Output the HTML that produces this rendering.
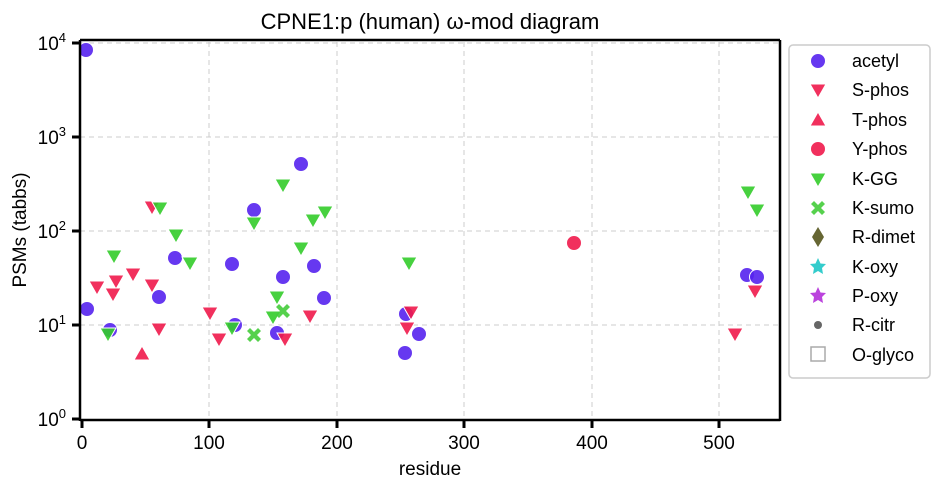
<!DOCTYPE html>
<html><head><meta charset="utf-8"><style>
body{margin:0;background:#fff;width:941px;height:492px;overflow:hidden}
svg{font-family:"Liberation Sans",sans-serif}
</style></head><body>
<svg width="941" height="492" viewBox="0 0 941 492">
<defs>
<g id="ci"><circle r="7.5" fill="#5522ee" fill-opacity="0.9" stroke="#fff" stroke-width="1"/></g>
<g id="cr"><circle r="7.5" fill="#f0194b" fill-opacity="0.9" stroke="#fff" stroke-width="1"/></g>
<g id="tr"><polygon points="-8,-6 8,-6 0,8" fill="#f0194b" fill-opacity="0.9" stroke="#fff" stroke-width="1"/></g>
<g id="tu"><polygon points="-8,6 8,6 0,-8" fill="#f0194b" fill-opacity="0.9" stroke="#fff" stroke-width="1"/></g>
<g id="tg"><polygon points="-8,-6 8,-6 0,8" fill="#33cc2a" fill-opacity="0.9" stroke="#fff" stroke-width="1"/></g>
<g id="xg"><path d="M-7,-4 L-4,-7 L0,-3 L4,-7 L7,-4 L3,0 L7,4 L4,7 L0,3 L-4,7 L-7,4 L-3,0Z" fill="#44cc3a" fill-opacity="0.9"/></g>
</defs>
<g stroke="#ccc" stroke-dasharray="5,4" stroke-width="1">
<line x1="209" y1="42" x2="209" y2="420"/><line x1="337" y1="42" x2="337" y2="420"/><line x1="464" y1="42" x2="464" y2="420"/><line x1="592" y1="42" x2="592" y2="420"/><line x1="719" y1="42" x2="719" y2="420"/>
<line x1="80" y1="43" x2="780" y2="43"/><line x1="80" y1="137" x2="780" y2="137"/><line x1="80" y1="231" x2="780" y2="231"/><line x1="80" y1="325" x2="780" y2="325"/>
</g>
<g>
<use href="#ci" x="86" y="50"/><use href="#ci" x="87" y="309"/><use href="#ci" x="110" y="330"/><use href="#ci" x="159" y="297"/><use href="#ci" x="175" y="258"/><use href="#ci" x="232" y="264"/><use href="#ci" x="235" y="325"/><use href="#ci" x="254" y="210"/><use href="#ci" x="277" y="333"/><use href="#ci" x="283" y="277"/><use href="#ci" x="301" y="164"/><use href="#ci" x="314" y="266"/><use href="#ci" x="324" y="298"/><use href="#ci" x="406" y="314"/><use href="#ci" x="419" y="334"/><use href="#ci" x="405" y="353"/><use href="#ci" x="747" y="275"/><use href="#ci" x="757" y="277"/>
<use href="#tr" x="97" y="287"/><use href="#tr" x="116" y="281"/><use href="#tr" x="113" y="294"/><use href="#tr" x="133" y="274"/><use href="#tr" x="152" y="207"/><use href="#tr" x="152" y="285"/><use href="#tr" x="159" y="329"/><use href="#tr" x="210" y="313"/><use href="#tr" x="219" y="339"/><use href="#tr" x="285" y="339"/><use href="#tr" x="310" y="316"/><use href="#tr" x="411" y="312"/><use href="#tr" x="407" y="328"/><use href="#tr" x="755" y="291"/><use href="#tr" x="735" y="334"/>
<use href="#tu" x="142" y="354"/>
<use href="#cr" x="574" y="243"/>
<use href="#tg" x="114" y="256"/><use href="#tg" x="160" y="208"/><use href="#tg" x="176" y="235"/><use href="#tg" x="190" y="263"/><use href="#tg" x="108" y="334"/><use href="#tg" x="232" y="328"/><use href="#tg" x="254" y="223"/><use href="#tg" x="277" y="297"/><use href="#tg" x="273" y="317"/><use href="#tg" x="283" y="185"/><use href="#tg" x="313" y="220"/><use href="#tg" x="325" y="212"/><use href="#tg" x="301" y="248"/><use href="#tg" x="409" y="263"/><use href="#tg" x="748" y="192"/><use href="#tg" x="757" y="210"/>
<use href="#xg" x="254" y="335"/><use href="#xg" x="283" y="311"/>
</g>
<g stroke="#000" stroke-width="2.5" fill="none">
<line x1="80" y1="40" x2="80" y2="421"/><line x1="780" y1="40" x2="780" y2="421"/>
<line x1="80" y1="40" x2="780" y2="40"/><line x1="80" y1="420" x2="780" y2="420"/>
</g>
<g stroke="#000" stroke-width="3">
<line x1="72" y1="43" x2="80" y2="43"/><line x1="72" y1="137" x2="80" y2="137"/><line x1="72" y1="231" x2="80" y2="231"/><line x1="72" y1="325" x2="80" y2="325"/><line x1="72" y1="419" x2="80" y2="419"/>
<line x1="82" y1="420" x2="82" y2="428"/><line x1="209" y1="420" x2="209" y2="428"/><line x1="337" y1="420" x2="337" y2="428"/><line x1="464" y1="420" x2="464" y2="428"/><line x1="592" y1="420" x2="592" y2="428"/><line x1="719" y1="420" x2="719" y2="428"/>
</g>
<g font-size="19" fill="#000">
<text x="66" y="50" text-anchor="end">10<tspan dy="-8" font-size="13">4</tspan></text>
<text x="66" y="144" text-anchor="end">10<tspan dy="-8" font-size="13">3</tspan></text>
<text x="66" y="238" text-anchor="end">10<tspan dy="-8" font-size="13">2</tspan></text>
<text x="66" y="332" text-anchor="end">10<tspan dy="-8" font-size="13">1</tspan></text>
<text x="66" y="426" text-anchor="end">10<tspan dy="-8" font-size="13">0</tspan></text>
<g text-anchor="middle"><text x="82" y="449">0</text><text x="209" y="449">100</text><text x="337" y="449">200</text><text x="464" y="449">300</text><text x="592" y="449">400</text><text x="719" y="449">500</text></g>
<text x="430" y="475" text-anchor="middle">residue</text>
<text x="26" y="230" text-anchor="middle" transform="rotate(-90 26 230)">PSMs (tabbs)</text>
<text x="430" y="29" text-anchor="middle" font-size="22">CPNE1:p (human) ω-mod diagram</text>
</g>
<rect x="789" y="45" width="141" height="333" rx="4" fill="#fff" stroke="#ccc" stroke-width="1.5"/>
<g>
<use href="#ci" x="818" y="61"/><use href="#tr" x="818" y="90"/><use href="#tu" x="818" y="120"/><use href="#cr" x="818" y="149"/><use href="#tg" x="818" y="179"/><use href="#xg" x="818" y="208"/>
<polygon points="818,227 824,237 818,247 812,237" fill="#666633"/>
<polygon points="818,258 820.5,263.5 826,264 822,268 823,274 818,271 813,274 814,268 810,264 815.5,263.5" fill="#33cccc"/>
<polygon points="818,287 820.5,292.5 826,293 822,297 823,303 818,300 813,303 814,297 810,293 815.5,292.5" fill="#bb44dd"/>
<circle cx="818" cy="325" r="4" fill="#666"/>
<rect x="811" y="347" width="14" height="14" fill="#fff" stroke="#aaa" stroke-width="1.5"/>
</g>
<g font-size="18" fill="#000">
<text x="852" y="67">acetyl</text><text x="852" y="96">S-phos</text><text x="852" y="126">T-phos</text><text x="852" y="155">Y-phos</text><text x="852" y="185">K-GG</text><text x="852" y="214">K-sumo</text><text x="852" y="243">R-dimet</text><text x="852" y="273">K-oxy</text><text x="852" y="302">P-oxy</text><text x="852" y="331">R-citr</text><text x="852" y="361">O-glyco</text>
</g>
</svg>
</body></html>
